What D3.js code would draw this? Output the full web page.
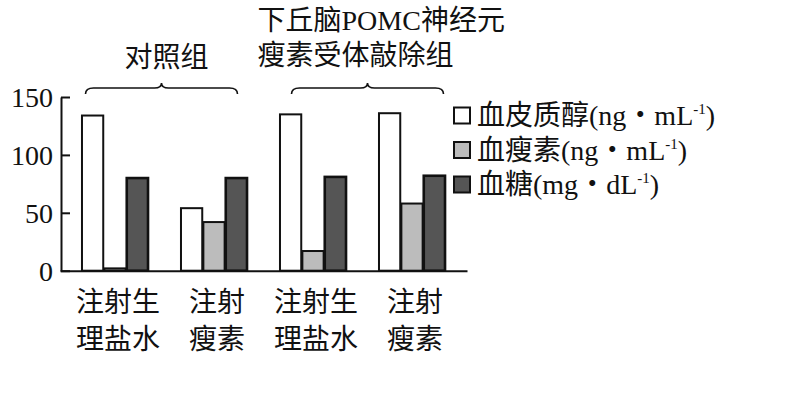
<!DOCTYPE html>
<html lang="zh">
<head>
  <meta charset="UTF-8" />
  <title>POMC 瘦素受体敲除</title>
  <script src="https://d3js.org/d3.v7.min.js"></script>
  <style>
    html,body{margin:0;padding:0;background:#fff}
    svg{display:block}
    .cjk{font-family:"Noto Sans CJK SC","Noto Sans",sans-serif}
    .lat{font-family:"Liberation Serif","DejaVu Serif",serif}
  </style>
</head>
<body>
  <div id="chart"></div>
  <script>
    const groupLabels = [["注射生", "理盐水"], ["注射", "瘦素"], ["注射生", "理盐水"], ["注射", "瘦素"]];
    const seriesNames = ["血皮质醇", "血瘦素", "血糖"];
    const seriesUnits = ["ng", "ng", "mg"];
    const seriesVol = ["mL", "mL", "dL"];
    const cortisol = [134, 54, 135, 136];
    const leptin = [2, 42, 17, 58];
    const glucose = [80, 80, 81, 82];
    const yTicks = [0, 50, 100, 150];
    const braceGroups = [[0, 1], [2, 3]];
    const braceTitles = [["对照组"], ["下丘脑POMC神经元", "瘦素受体敲除组"]];

    const W = 795, H = 407;
    const FILLS = ["#ffffff", "#bcbcbc", "#555555"];
    const FS = 28;

    const svg = d3.select("#chart").append("svg").attr("width", W).attr("height", H);

    const x = d3.scaleBand().domain(d3.range(groupLabels.length)).range([60, 467])
      .paddingInner(0.333).paddingOuter(0.222);
    const xs = d3.scaleBand().domain(seriesNames).range([0, x.bandwidth()]).paddingInner(0.05);
    const y = d3.scaleLinear().domain([0, 150]).range([270.7, 97]);

    // mixed CJK / latin text
    function mixed(sel, str) {
      str.split(/([A-Za-z0-9()]+)/).filter(s => s).forEach(s => {
        sel.append("tspan").attr("class", /^[A-Za-z0-9()]+$/.test(s) ? "lat" : "cjk").text(s);
      });
    }

    // bars
    const values = [cortisol, leptin, glucose];
    const cells = [];
    groupLabels.forEach((g, i) => seriesNames.forEach((s, j) => cells.push({ g: i, s, j, v: values[j][i] })));

    svg.append("g").selectAll("rect").data(cells).enter().append("rect")
      .attr("x", d => x(d.g) + xs(d.s))
      .attr("y", d => y(d.v))
      .attr("width", xs.bandwidth())
      .attr("height", d => y(0) - y(d.v))
      .attr("fill", d => FILLS[d.j])
      .attr("stroke", "#111")
      .attr("stroke-width", d => d.j === 2 ? 2.6 : 2);

    // axes
    const yAxis = svg.append("g").attr("transform", "translate(61,0)")
      .call(d3.axisLeft(y).tickValues(yTicks).tickSizeInner(-9).tickSizeOuter(0).tickPadding(8));
    yAxis.select(".domain").attr("stroke", "#111").attr("stroke-width", 2);
    yAxis.selectAll(".tick line").attr("stroke", "#111").attr("stroke-width", 2);
    yAxis.selectAll(".tick text").attr("class", "lat").attr("font-size", FS).attr("fill", "#111")
      .attr("dy", "0.34em").style("font-family", "'Liberation Serif',serif");

    const xAxis = svg.append("g").attr("transform", `translate(0,${y(0)})`)
      .call(d3.axisBottom(x).tickSize(0).tickFormat(""));
    xAxis.select(".domain").attr("stroke", "#111").attr("stroke-width", 2);

    // group labels
    groupLabels.forEach((lines, i) => {
      lines.forEach((t, k) => {
        svg.append("text").attr("class", "cjk")
          .attr("x", x(i) + x.bandwidth() / 2 + 3)
          .attr("y", 312 + k * 37)
          .attr("text-anchor", "middle")
          .attr("font-size", FS).attr("fill", "#111")
          .text(t);
      });
    });

    // braces + titles
    const braceShift = [-3, 5];
    braceGroups.forEach((gp, b) => {
      const cx = (x(gp[0]) + x(gp[1]) + x.bandwidth()) / 2 + braceShift[b];
      const x1 = cx - 76, x2 = cx + 76;
      const yb = 94, yl = 88, yt = 83;
      svg.append("path")
        .attr("d", `M${x1},${yb} Q${x1},${yl} ${x1 + 8},${yl} L${cx - 7},${yl} Q${cx},${yl} ${cx},${yt} Q${cx},${yl} ${cx + 7},${yl} L${x2 - 8},${yl} Q${x2},${yl} ${x2},${yb}`)
        .attr("fill", "none").attr("stroke", "#111").attr("stroke-width", 1.6);

      const lines = braceTitles[b];
      lines.forEach((t, k) => {
        const tx = svg.append("text").attr("font-size", FS).attr("fill", "#111");
        if (lines.length === 1) {
          tx.attr("x", cx + 5).attr("y", 67).attr("text-anchor", "middle");
        } else {
          tx.attr("x", cx - 110).attr("y", 30 + k * 35).attr("text-anchor", "start");
        }
        mixed(tx, t);
      });
    });

    // legend
    const lg = svg.append("g").attr("transform", "translate(454,0)");
    seriesNames.forEach((s, j) => {
      const cy = 115.5 + j * 34.5;
      lg.append("rect").attr("x", 0).attr("y", cy - 8).attr("width", 16).attr("height", 16)
        .attr("fill", FILLS[j]).attr("stroke", "#111").attr("stroke-width", 2);
      const t = lg.append("text").attr("x", 23).attr("y", cy + 9.5).attr("font-size", FS).attr("fill", "#111");
      t.append("tspan").attr("class", "cjk").text(s);
      t.append("tspan").attr("class", "lat").text("(" + seriesUnits[j]);
      t.append("tspan").attr("class", "cjk").text("・");
      t.append("tspan").attr("class", "lat").text(seriesVol[j]);
      t.append("tspan").attr("class", "lat").attr("font-size", 15).attr("dy", -11).text("-1");
      t.append("tspan").attr("class", "lat").attr("dy", 11).text(")");
    });
  </script>
</body>
</html>
